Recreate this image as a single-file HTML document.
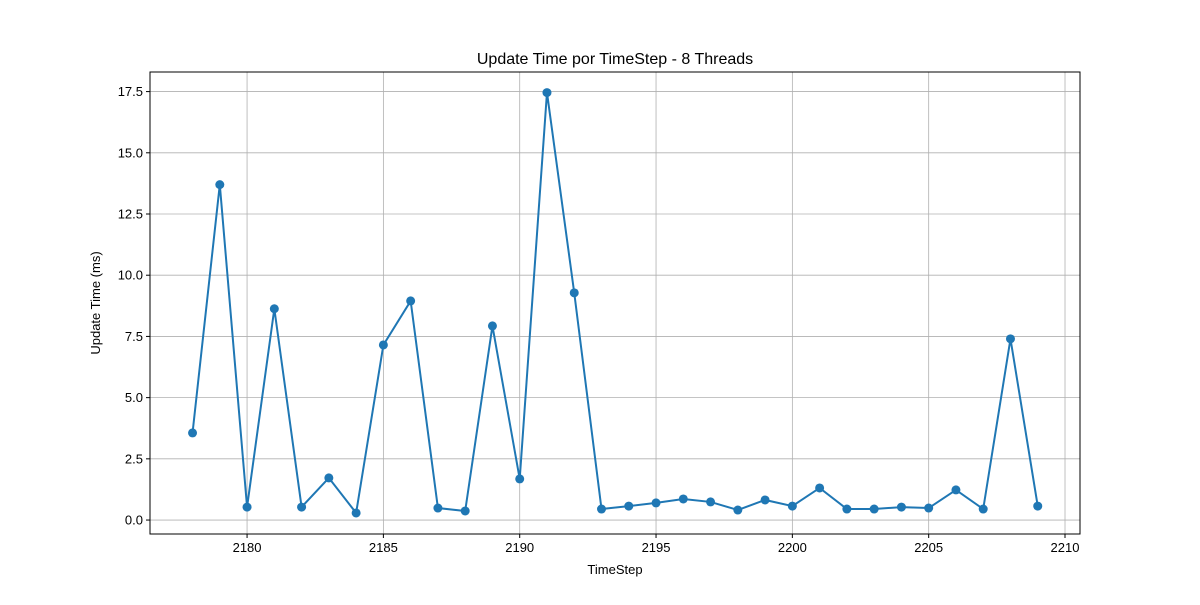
<!DOCTYPE html>
<html><head><meta charset="utf-8"><style>
body{margin:0;background:#fff;}
svg text{font-family:"Liberation Sans","DejaVu Sans",sans-serif;fill:#000;}
</style></head><body>
<svg id="chart" width="1200" height="600" xmlns="http://www.w3.org/2000/svg">
<rect width="1200" height="600" fill="#fff"/>
<g id="grid"></g>
<g id="ticks"></g>
<path id="line" fill="none" stroke="#1f77b4" stroke-width="2"/>
<g id="points"></g>
<rect x="150" y="72" width="930" height="462" fill="none" stroke="#000" stroke-width="1"/>
<text x="615" y="64" text-anchor="middle" font-size="16">Update Time por TimeStep - 8 Threads</text>
<text x="615" y="574" text-anchor="middle" font-size="13">TimeStep</text>
<text transform="translate(100,303) rotate(-90)" text-anchor="middle" font-size="13">Update Time (ms)</text>
</svg>
<script>
const timesteps=[2178,2179,2180,2181,2182,2183,2184,2185,2186,2187,2188,2189,2190,2191,2192,2193,2194,2195,2196,2197,2198,2199,2200,2201,2202,2203,2204,2205,2206,2207,2208,2209];
const updateTimes=[3.56,13.7,0.53,8.63,0.53,1.72,0.29,7.15,8.95,0.49,0.37,7.93,1.68,17.46,9.28,0.45,0.57,0.7,0.86,0.74,0.41,0.82,0.57,1.31,0.45,0.45,0.53,0.49,1.23,0.45,7.4,0.57];
const xTicks=[2180,2185,2190,2195,2200,2205,2210];
const yTicks=[0,2.5,5,7.5,10,12.5,15,17.5];
const yTickLabels=["0.0","2.5","5.0","7.5","10.0","12.5","15.0","17.5"];
const L=150,R=1080,T=72,B=534;
const xMin=2176.44,xMax=2210.55,yMin=-0.57,yMax=18.3;
const xs=v=>L+(v-xMin)/(xMax-xMin)*(R-L);
const ys=v=>B-(v-yMin)/(yMax-yMin)*(B-T);
const NS="http://www.w3.org/2000/svg";
const grid=document.getElementById('grid'),ticks=document.getElementById('ticks');
function mk(tag,attrs,parent){const e=document.createElementNS(NS,tag);for(const k in attrs)e.setAttribute(k,attrs[k]);parent.appendChild(e);return e;}
xTicks.forEach(t=>{
 const x=xs(t);
 const g=mk('line',{x1:x,x2:x,y1:T,y2:B,stroke:'#b0b0b0','stroke-width':0.8},grid);
 
 
 const tk=mk('line',{x1:x,x2:x,y1:B,y2:B+4,stroke:'#000'},ticks);
 
 
 const lb=mk('text',{x:x,y:B+18,'text-anchor':'middle','font-size':13},ticks);
 lb.textContent=t;
 
 
});
yTicks.forEach((t,i)=>{
 const y=ys(t);
 const g=mk('line',{x1:L,x2:R,y1:y,y2:y,stroke:'#b0b0b0','stroke-width':0.8},grid);
 
 
 const tk=mk('line',{x1:L-4,x2:L,y1:y,y2:y,stroke:'#000'},ticks);
 
 
 const lb=mk('text',{x:L-7,y:y+4.5,'text-anchor':'end','font-size':13},ticks);
 lb.textContent=yTickLabels[i];
 
 
});
document.getElementById('line').setAttribute('d',timesteps.map((t,i)=>(i?'L':'M')+xs(t)+','+ys(updateTimes[i])).join(''));
const pts=document.getElementById('points');
timesteps.forEach((t,i)=>{
 const c=mk('circle',{cx:xs(t),cy:ys(updateTimes[i]),r:4.5,fill:'#1f77b4'},pts);
 
 
});
</script>
</body></html>
